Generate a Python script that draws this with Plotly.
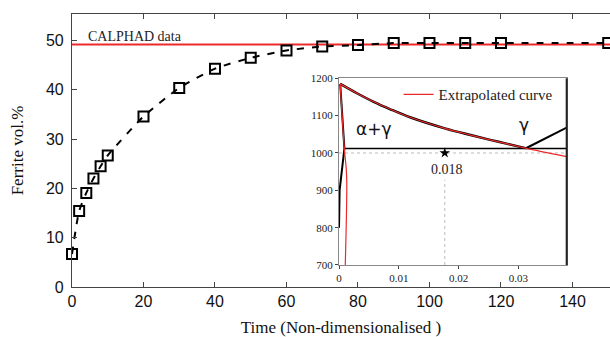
import plotly.graph_objects as go

# ---- main chart data ----
time_pts = [0, 2, 4, 6, 8, 10, 20, 30, 40, 50, 60, 70, 80, 90, 100, 110, 120, 150]
ferrite_pts = [6.7, 15.4, 19.1, 22.0, 24.5, 26.7, 34.6, 40.4, 44.3, 46.5, 48.0, 48.8, 49.1, 49.5, 49.5, 49.5, 49.5, 49.5]
calphad_value = 49.2
calphad_x = [0, 151]
x_ticks = [0, 20, 40, 60, 80, 100, 120, 140]
y_ticks = [0, 10, 20, 30, 40, 50]

# ---- inset data (phase diagram) ----
upper_x = [0.0002, 0.003, 0.0058, 0.0086, 0.012, 0.0177, 0.022, 0.0253, 0.028, 0.0312]
upper_T = [1185, 1160, 1137, 1117, 1095, 1066, 1048, 1035, 1025, 1013]
extrap_x = [0.0002, 0.003, 0.0058, 0.0086, 0.012, 0.0177, 0.022, 0.0253, 0.028, 0.0312, 0.0381]
extrap_T = [1185, 1160, 1137, 1117, 1095, 1066, 1048, 1035, 1025, 1013, 990]
red_left_x = [0.0002, 0.0009, 0.0012, 0.0013, 0.0012, 0.00105]
red_left_T = [1185, 1010, 960, 920, 800, 700]
black_left_x = [0.0002, 0.0009, 0.0001, 0.0, 0.0]
black_left_T = [1185, 1012, 900, 820, 800]
eutectoid_x = [0.0009, 0.0381]
eutectoid_T = [1012, 1012]
gamma_x = [0.0312, 0.0381]
gamma_T = [1012, 1068]
dot_h_x = [0, 0.0381]
dot_h_T = [1000, 1000]
dot_v_x = [0.0177, 0.0177]
dot_v_T = [700, 928]
star_x = [0.0177]
star_T = [1000]
inset_x_ticks = [0, 0.01, 0.02, 0.03]
inset_y_ticks = [700, 800, 900, 1000, 1100, 1200]

RED = "#ec2a2a"
SERIF = "Liberation Serif"
SANS = "Liberation Sans"

fig = go.Figure()

# main
fig.add_trace(go.Scatter(x=calphad_x, y=[calphad_value] * 2, mode="lines",
                         line=dict(color=RED, width=2), showlegend=False,
                         xaxis="x", yaxis="y"))
fig.add_trace(go.Scatter(x=time_pts, y=ferrite_pts, mode="lines+markers",
                         line=dict(color="black", width=2, dash="7px,8px", shape="spline", smoothing=0.6),
                         marker=dict(symbol="square-open", size=10, color="black", line=dict(width=2)),
                         showlegend=False, xaxis="x", yaxis="y", cliponaxis=False))

# inset
fig.add_trace(go.Scatter(x=dot_h_x, y=dot_h_T, mode="lines", line=dict(color="#bbbbbb", width=1, dash="dot"),
                         showlegend=False, xaxis="x2", yaxis="y2"))
fig.add_trace(go.Scatter(x=dot_v_x, y=dot_v_T, mode="lines", line=dict(color="#bbbbbb", width=1, dash="dot"),
                         showlegend=False, xaxis="x2", yaxis="y2"))
fig.add_trace(go.Scatter(x=upper_x, y=upper_T, mode="lines", line=dict(color="black", width=2.5, shape="spline"),
                         showlegend=False, xaxis="x2", yaxis="y2"))
fig.add_trace(go.Scatter(x=black_left_x, y=black_left_T, mode="lines", line=dict(color="black", width=2),
                         showlegend=False, xaxis="x2", yaxis="y2"))
fig.add_trace(go.Scatter(x=eutectoid_x, y=eutectoid_T, mode="lines", line=dict(color="black", width=1.5),
                         showlegend=False, xaxis="x2", yaxis="y2"))
fig.add_trace(go.Scatter(x=gamma_x, y=gamma_T, mode="lines", line=dict(color="black", width=2),
                         showlegend=False, xaxis="x2", yaxis="y2"))
fig.add_trace(go.Scatter(x=extrap_x, y=extrap_T, mode="lines", line=dict(color=RED, width=1.2, shape="spline"),
                         name="Extrapolated curve", showlegend=True, xaxis="x2", yaxis="y2"))
fig.add_trace(go.Scatter(x=red_left_x, y=red_left_T, mode="lines", line=dict(color=RED, width=1.2, shape="spline"),
                         showlegend=False, xaxis="x2", yaxis="y2"))
fig.add_trace(go.Scatter(x=star_x, y=star_T, mode="markers", marker=dict(symbol="star", size=8, color="black"),
                         showlegend=False, xaxis="x2", yaxis="y2"))

axis_col = "#444444"
fig.update_layout(
    width=610, height=337,
    margin=dict(l=72, r=0, t=14, b=50),
    paper_bgcolor="white", plot_bgcolor="white",
    xaxis=dict(domain=[0, 1], range=[0, 150.5], tickvals=x_ticks, ticks="inside", ticklen=5,
               showline=True, linecolor=axis_col, linewidth=1.2, mirror="ticks", showgrid=False, zeroline=False,
               automargin=False,
               tickfont=dict(family=SANS, size=16, color="#111"),
               title=dict(text="Time (Non-dimensionalised )", font=dict(family=SERIF, size=17, color="#111"), standoff=12)),
    yaxis=dict(domain=[0, 1], range=[0, 55.4], tickvals=y_ticks, ticks="inside", ticklen=5,
               showline=True, linecolor=axis_col, linewidth=1.2, showgrid=False, zeroline=False,
               automargin=False, ticklabelstandoff=4,
               tickfont=dict(family=SANS, size=16, color="#111"),
               title=dict(text="Ferrite vol.%", font=dict(family=SERIF, size=17, color="#111"), standoff=17)),
    xaxis2=dict(domain=[0.4963, 0.9195], anchor="y2", range=[0, 0.0381], tickvals=inset_x_ticks,
                ticktext=["0", "0.01", "0.02", "0.03"], ticks="outside", ticklen=3, automargin=False,
                showline=True, linecolor="#888", linewidth=1, mirror=True, showgrid=False, zeroline=False,
                tickfont=dict(family=SERIF, size=11, color="#222")),
    yaxis2=dict(domain=[0.0806, 0.7645], anchor="x2", range=[700, 1200], tickvals=inset_y_ticks,
                ticks="outside", ticklen=3, automargin=False,
                showline=True, linecolor="#888", linewidth=1, mirror=True, showgrid=False, zeroline=False,
                tickfont=dict(family=SERIF, size=11, color="#222")),
    legend=dict(x=0.607, y=0.765, xanchor="left", yanchor="top", bgcolor="rgba(255,255,255,0)",
                font=dict(family=SERIF, size=15, color="#222")),
    shapes=[dict(type="line", xref="x2 domain", yref="y2 domain", x0=1, x1=1, y0=0, y1=1,
                 line=dict(color="#222", width=2))],
    annotations=[
        dict(text="CALPHAD data", x=4, y=50.8, xref="x", yref="y", xanchor="left", yanchor="middle",
             showarrow=False, font=dict(family=SERIF, size=14, color="#222")),
        dict(text="α+γ", x=0.0058, y=1063, xref="x2", yref="y2", xanchor="center", yanchor="middle",
             showarrow=False, font=dict(family="DejaVu Sans", size=17, color="#111")),
        dict(text="γ", x=0.0309, y=1076, xref="x2", yref="y2", xanchor="center", yanchor="middle",
             showarrow=False, font=dict(family="DejaVu Sans", size=17, color="#111")),
        dict(text="0.018", x=0.0180, y=955, xref="x2", yref="y2", xanchor="center", yanchor="middle",
             showarrow=False, font=dict(family=SERIF, size=14, color="#222")),
    ],
)

fig.write_html("out.html", config={"displayModeBar": False},
               post_script="document.body.style.margin='0px';")
